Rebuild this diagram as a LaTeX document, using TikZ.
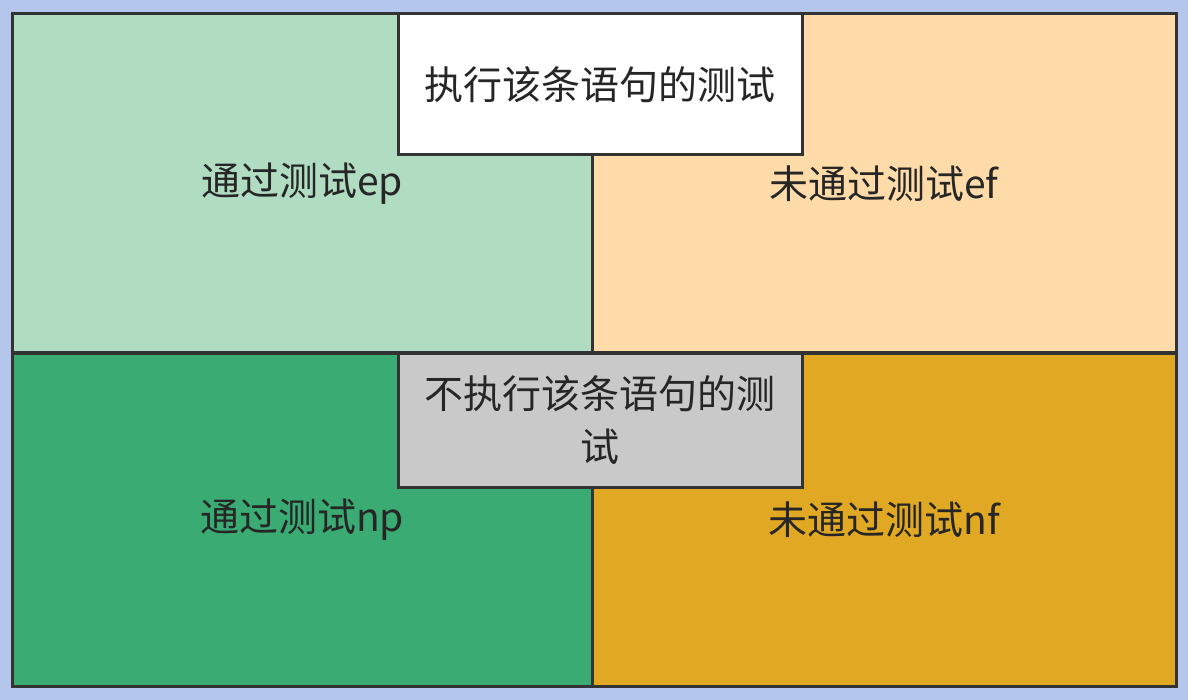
\documentclass[tikz,border=0pt]{standalone}
\usepackage{fontspec}
\setmainfont{Noto Sans CJK SC}
\definecolor{bgblue}{HTML}{B4C6EC}
\definecolor{lightgreen}{HTML}{B0DCC2}
\definecolor{peach}{HTML}{FEDBA8}
\definecolor{deepgreen}{HTML}{3AAB73}
\definecolor{gold}{HTML}{E0A823}
\definecolor{boxgray}{HTML}{C9C9C9}
\definecolor{edgecol}{HTML}{333333}
\newcommand\cellfont{\fontsize{39}{53}\selectfont}

\begin{document}
\begin{tikzpicture}[x=1pt,y=-1pt,
	cell/.style={draw=edgecol,line width=3pt,inner sep=0pt,outer sep=0pt,anchor=north west,
		font=\cellfont,text=black!85,align=center}]
\fill[bgblue] (0,0) rectangle (1188,700);
% four quadrants
\node[cell,fill=lightgreen,minimum width=580pt,minimum height=339pt] (ep) at (12,14) {通过测试ep};
\node[cell,fill=peach,minimum width=584pt,minimum height=339pt] (ef) at (592,14) {未通过测试ef};
\node[cell,fill=deepgreen,minimum width=580pt,minimum height=333pt] (np) at (12,353) {通过测试np};
\node[cell,fill=gold,minimum width=584pt,minimum height=333pt] (nf) at (592,353) {未通过测试nf};
% headers over the middle line
\node[cell,fill=white,minimum width=404pt,minimum height=141pt] (exec) at (398,14) {执行该条语句的测试};
\node[cell,fill=boxgray,minimum width=404pt,minimum height=134pt] (noexec) at (398,353) {不执行该条语句的测\\试};
\end{tikzpicture}
\end{document}
